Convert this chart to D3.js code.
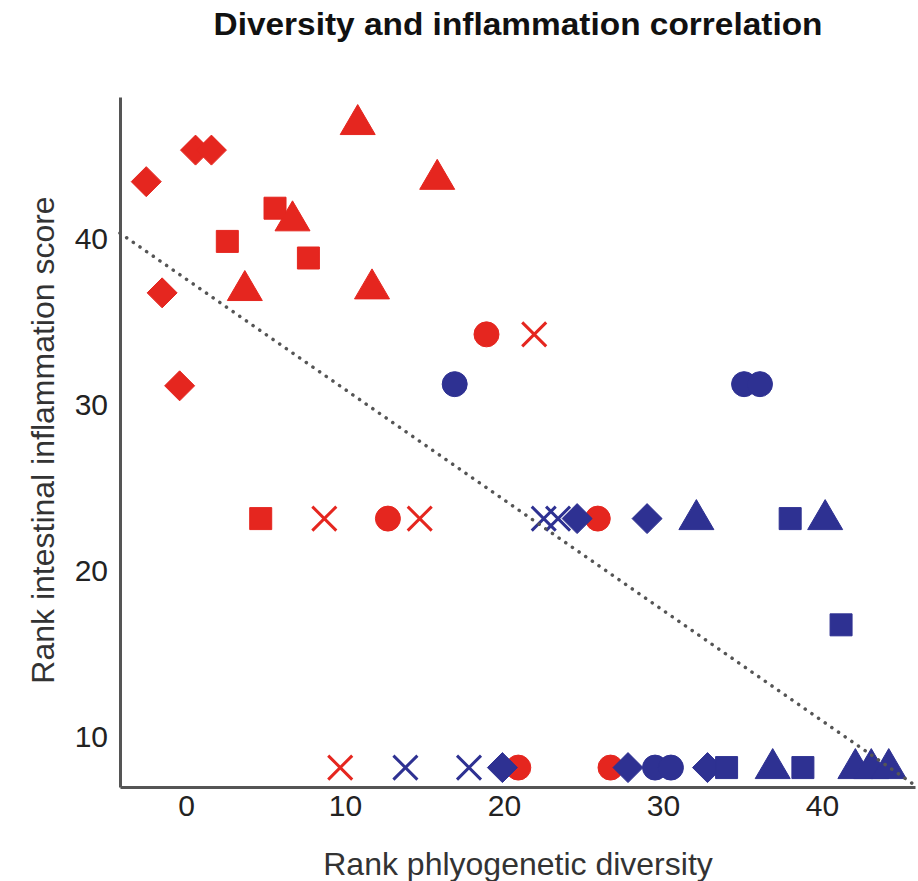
<!DOCTYPE html>
<html>
<head>
<meta charset="utf-8">
<script src="https://cdn.jsdelivr.net/npm/d3@7"></script>
<style>
  body { margin: 0; background: #fff; }
  text { font-family: "Liberation Sans", Arial, sans-serif; }
</style>
</head>
<body>
<div id="chart"></div>
<script>
// data
var redX = [-2.5, 0.6, 1.6, -1.5, -0.4, 10.8, 15.8, 2.6, 5.6, 6.7, 7.7, 3.7, 11.7, 18.9, 21.9,
            4.7, 8.7, 12.7, 14.7, 25.9, 9.7, 20.9, 26.7];
var redY = [43.4, 45.3, 45.3, 36.7, 31.1, 46.9, 43.6, 39.8, 41.8, 41.1, 38.8, 36.9, 37.0, 34.2, 34.2,
            23.1, 23.1, 23.1, 23.1, 23.1, 8.1, 8.1, 8.1];
var redShape = ["diamond", "diamond", "diamond", "diamond", "diamond", "triangle", "triangle", "square",
                "square", "triangle", "square", "triangle", "triangle", "circle", "cross",
                "square", "cross", "circle", "cross", "circle", "cross", "circle", "circle"];

var blueX = [16.9, 35.1, 36.1, 22.5, 23.4, 24.6, 29.0, 32.1, 38.0, 40.2, 41.2,
             13.8, 17.8, 19.9, 27.8, 29.5, 30.5, 32.8, 34.0, 36.9, 38.8, 42.1, 43.1, 44.2];
var blueY = [31.2, 31.2, 31.2, 23.1, 23.1, 23.1, 23.1, 23.1, 23.1, 23.1, 16.7,
             8.1, 8.1, 8.1, 8.1, 8.1, 8.1, 8.1, 8.1, 8.1, 8.1, 8.1, 8.1, 8.1];
var blueShape = ["circle", "circle", "circle", "cross", "cross", "diamond", "diamond", "triangle", "square",
                 "triangle", "square", "cross", "cross", "diamond", "diamond", "circle", "circle",
                 "diamond", "square", "triangle", "square", "triangle", "triangle", "triangle"];

// fitted trend line end points
var trendX = [-4.15, 45.75];
var trendY = [40.3, 7.1];

var xTicks = [0, 10, 20, 30, 40];
var yTicks = [10, 20, 30, 40];

var svgWidth = 918;
var svgHeight = 881;
var margin = { top: 97, right: 3, bottom: 94, left: 120 };
var width = svgWidth - margin.left - margin.right;
var height = svgHeight - margin.top - margin.bottom;

var svg = d3.select("#chart").append("svg")
  .attr("width", svgWidth)
  .attr("height", svgHeight);

var chartGroup = svg.append("g")
  .attr("transform", `translate(${margin.left}, ${margin.top})`);

var xScale = d3.scaleLinear().domain([-4.15, 45.85]).range([0, width]);
var yScale = d3.scaleLinear().domain([6.93, 48.5]).range([height, 0]);

// axes
var bottomAxis = d3.axisBottom(xScale).tickValues(xTicks).tickSize(0).tickPadding(8);
var leftAxis = d3.axisLeft(yScale).tickValues(yTicks).tickSize(0).tickPadding(12);

var xAxis = chartGroup.append("g")
  .attr("transform", `translate(0, ${height})`)
  .call(bottomAxis);
var yAxis = chartGroup.append("g").call(leftAxis);

[xAxis, yAxis].forEach(function(a) {
  a.select(".domain").attr("stroke", "#555").attr("stroke-width", 3);
  a.selectAll("text").attr("font-size", 30).attr("fill", "#222")
    .attr("font-family", "Liberation Sans, Arial, sans-serif");
});
yAxis.selectAll("text").attr("dy", "0.35em");

// marker shapes
function shapePath(shape) {
  if (shape === "diamond") return "M0,-15L15,0L0,15L-15,0Z";
  if (shape === "square") return "M-11,-11H11V11H-11Z";
  if (shape === "triangle") return "M0,-19L17.5,11L-17.5,11Z";
  if (shape === "circle") return d3.symbol(d3.symbolCircle, Math.PI * 12.5 * 12.5)();
  return "M-12,-12L12,12M-12,12L12,-12";
}

function drawGroup(xs, ys, shapes, color) {
  var pts = xs.map(function(x, i) { return { x: x, y: ys[i], shape: shapes[i] }; });
  chartGroup.append("g").selectAll("path")
    .data(pts)
    .enter()
    .append("path")
    .attr("transform", d => `translate(${xScale(d.x)}, ${yScale(d.y)})`)
    .attr("d", d => shapePath(d.shape))
    .attr("fill", d => d.shape === "cross" ? "none" : color)
    .attr("stroke", color)
    .attr("stroke-width", d => d.shape === "cross" ? 3 : 1)
    .attr("stroke-linejoin", "round");
}

drawGroup(redX, redY, redShape, "#e5261f");
drawGroup(blueX, blueY, blueShape, "#2e3192");

// dotted trend line on top
chartGroup.append("line")
  .attr("x1", xScale(trendX[0])).attr("y1", yScale(trendY[0]))
  .attr("x2", xScale(trendX[1])).attr("y2", yScale(trendY[1]))
  .attr("stroke", "#555")
  .attr("stroke-width", 3.5)
  .attr("stroke-linecap", "round")
  .attr("stroke-dasharray", "0.1,8");

// title and axis labels
svg.append("text")
  .attr("x", 518).attr("y", 35)
  .attr("text-anchor", "middle")
  .attr("font-family", "Liberation Sans Narrow, Arial Narrow, Liberation Sans, sans-serif")
  .attr("font-size", 32)
  .attr("font-weight", "bold")
  .attr("fill", "#111")
  .attr("textLength", 609)
  .attr("lengthAdjust", "spacingAndGlyphs")
  .text("Diversity and inflammation correlation");

svg.append("text")
  .attr("x", 518).attr("y", 875)
  .attr("text-anchor", "middle")
  .attr("font-size", 32)
  .attr("fill", "#333")
  .text("Rank phlyogenetic diversity");

svg.append("text")
  .attr("transform", "translate(54, 440) rotate(-90)")
  .attr("text-anchor", "middle")
  .attr("font-size", 32)
  .attr("fill", "#333")
  .text("Rank intestinal inflammation score");
</script>
</body>
</html>
